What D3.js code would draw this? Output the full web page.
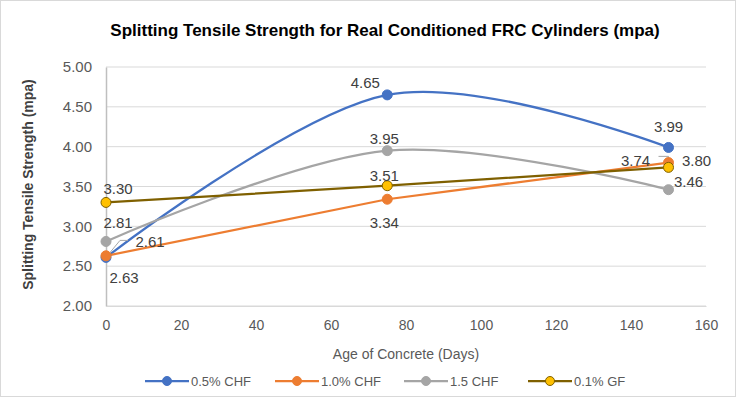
<!DOCTYPE html>
<html>
<head>
<meta charset="utf-8">
<script src="https://cdn.jsdelivr.net/npm/d3@7"></script>
<style>
  body { margin: 0; background: #fff; }
  text { font-family: "Liberation Sans", Arial, sans-serif; }
</style>
</head>
<body>
<div id="chart"></div>
<script>
// chart data
var days = [0, 75, 150];
var seriesNames = ["0.5% CHF", "1.0% CHF", "1.5 CHF", "0.1% GF"];
var chf05 = [2.61, 4.65, 3.99];
var chf10 = [2.63, 3.34, 3.80];
var chf15 = [2.81, 3.95, 3.46];
var gf01 = [3.30, 3.51, 3.74];
var xTicks = [0, 20, 40, 60, 80, 100, 120, 140, 160];
var yTicks = [2.0, 2.5, 3.0, 3.5, 4.0, 4.5, 5.0];

var svgWidth = 736, svgHeight = 397;
var margin = { top: 67, right: 30, bottom: 91, left: 106 };
var width = svgWidth - margin.left - margin.right;
var height = svgHeight - margin.top - margin.bottom;

var svg = d3.select("#chart").append("svg")
  .attr("width", svgWidth)
  .attr("height", svgHeight);

// outer border
svg.append("rect")
  .attr("x", 0.5).attr("y", 0.5)
  .attr("width", svgWidth - 1).attr("height", svgHeight - 1)
  .attr("fill", "#fff").attr("stroke", "#d9d9d9");

var g = svg.append("g").attr("transform", `translate(${margin.left}, ${margin.top})`);

var x = d3.scaleLinear().domain([0, 160]).range([0, width]);
var y = d3.scaleLinear().domain([2, 5]).range([height, 0]);

// gridlines
g.selectAll(".grid").data(yTicks).enter().append("line")
  .attr("x1", 0).attr("x2", width)
  .attr("y1", d => y(d)).attr("y2", d => y(d))
  .attr("stroke", "#d9d9d9").attr("stroke-width", 1);

// y axis
var yAxis = g.append("g")
  .call(d3.axisLeft(y).tickValues(yTicks).tickFormat(d3.format(".2f")).tickSize(0).tickPadding(14));
yAxis.select(".domain").attr("stroke", "#bfbfbf").attr("stroke-width", 1.5);
yAxis.selectAll("text").attr("fill", "#595959").style("font-size", "15px");

// x axis
var xAxis = g.append("g")
  .attr("transform", `translate(0, ${height})`)
  .call(d3.axisBottom(x).tickValues(xTicks).tickSize(0).tickPadding(14));
xAxis.select(".domain").attr("stroke", "#d9d9d9");
xAxis.selectAll("text").attr("fill", "#595959").style("font-size", "14px");

// titles
svg.append("text")
  .attr("x", 385).attr("y", 36)
  .attr("text-anchor", "middle")
  .style("font-size", "17px").style("font-weight", "bold")
  .attr("fill", "#000")
  .text("Splitting Tensile Strength for Real Conditioned FRC Cylinders (mpa)");

svg.append("text")
  .attr("x", margin.left + width / 2).attr("y", 359)
  .attr("text-anchor", "middle")
  .style("font-size", "14px").attr("fill", "#595959")
  .text("Age of Concrete (Days)");

svg.append("text")
  .attr("transform", `translate(33, ${margin.top + height / 2 - 2}) rotate(-90)`)
  .attr("text-anchor", "middle")
  .style("font-size", "14px").style("font-weight", "bold")
  .attr("fill", "#404040")
  .text("Splitting Tensile Strength (mpa)");

var series = [
  { name: seriesNames[0], values: chf05, color: "#4472c4", fill: "#4472c4", smooth: true },
  { name: seriesNames[1], values: chf10, color: "#ed7d31", fill: "#ed7d31", smooth: false },
  { name: seriesNames[2], values: chf15, color: "#a5a5a5", fill: "#a5a5a5", smooth: true },
  { name: seriesNames[3], values: gf01, color: "#7f6000", fill: "#ffc000", smooth: false }
];

// label offsets relative to marker (dx, dy)
var labelOffsets = [
  [[44, -16], [-22, -12], [0, -21]],
  [[18, 22], [-3, 24], [28, -2]],
  [[12, -19], [-3, -12], [20, -8]],
  [[12, -14], [-3, -10], [-33, -7]]
];

series.forEach(function(s, i) {
  var pts = s.values.map((v, j) => [days[j], v]);
  var line = d3.line()
    .x(d => x(d[0])).y(d => y(d[1]))
    .curve(s.smooth ? d3.curveCardinal.tension(0) : d3.curveLinear);
  g.append("path")
    .datum(pts)
    .attr("d", line)
    .attr("fill", "none")
    .attr("stroke", s.color)
    .attr("stroke-width", 2.25);
});

// leader lines for offset labels
var leaders = [
  { s: 0, j: 0, pts: [[0, 0], [14, -17], [22, -17]] },
  { s: 3, j: 2, pts: [[0, 0], [0, -11], [-10, -11]] }
];
leaders.forEach(function(l) {
  var px = x(days[l.j]), py = y(series[l.s].values[l.j]);
  g.append("polyline")
    .attr("points", l.pts.map(p => (px + p[0]) + "," + (py + p[1])).join(" "))
    .attr("fill", "none").attr("stroke", "#a6a6a6").attr("stroke-width", 1);
});

series.forEach(function(s, i) {
  g.selectAll(".m" + i).data(s.values).enter().append("circle")
    .attr("cx", (d, j) => x(days[j]))
    .attr("cy", d => y(d))
    .attr("r", 5)
    .attr("fill", s.fill)
    .attr("stroke", s.color)
    .attr("stroke-width", 1);
});

series.forEach(function(s, i) {
  g.selectAll(".l" + i).data(s.values).enter().append("text")
    .attr("x", (d, j) => x(days[j]) + labelOffsets[i][j][0])
    .attr("y", (d, j) => y(d) + labelOffsets[i][j][1])
    .attr("text-anchor", "middle")
    .attr("dy", "0.35em")
    .style("font-size", "15px")
    .attr("fill", "#404040")
    .text(d => d.toFixed(2));
});

// legend
var legendX = [145, 275, 404, 528];
var legend = svg.append("g").attr("transform", "translate(0, 381)");
series.forEach(function(s, i) {
  var lg = legend.append("g").attr("transform", `translate(${legendX[i]}, 0)`);
  lg.append("line").attr("x1", 0).attr("x2", 44).attr("y1", 0).attr("y2", 0)
    .attr("stroke", s.color).attr("stroke-width", 2.25);
  lg.append("circle").attr("cx", 22).attr("cy", 0).attr("r", 4.5)
    .attr("fill", s.fill).attr("stroke", s.color);
  lg.append("text").attr("x", 46).attr("y", 0).attr("dy", "0.35em")
    .style("font-size", "13px").attr("fill", "#595959")
    .text(s.name);
});
</script>
</body>
</html>
